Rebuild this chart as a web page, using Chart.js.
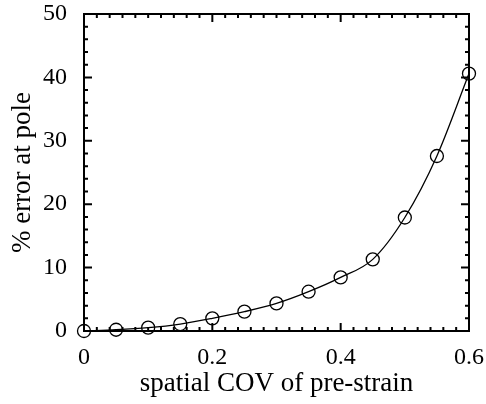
<!DOCTYPE html>
<html>
<head>
<meta charset="utf-8">
<script src="https://cdn.jsdelivr.net/npm/chart.js@4/dist/chart.umd.min.js"></script>
<style>
  body { margin: 0; background: #fff; }
  canvas { display: block; }
</style>
</head>
<body>
<canvas id="chart" width="486" height="404"></canvas>
<script>
// spatial COV of pre-strain vs % error at pole
const covValues = [0, 0.05, 0.1, 0.15, 0.2, 0.25, 0.3, 0.35, 0.4, 0.45, 0.5, 0.55, 0.6];
const errorValues = [0, 0.2, 0.53, 1.1, 2.0, 3.05, 4.35, 6.2, 8.45, 11.3, 17.9, 27.6, 40.6];
const xTickLabels = ['0', '0.2', '0.4', '0.6'];

const serif = 'Liberation Serif';

// Frame around the plot with inward major/minor ticks on all four sides
const frameTicks = {
    id: 'frameTicks',
    beforeDatasetsDraw(chart) {
        const { ctx, chartArea: a, scales: { x, y } } = chart;
        ctx.save();
        ctx.strokeStyle = '#000';
        ctx.lineWidth = 2;
        ctx.strokeRect(a.left, a.top, a.right - a.left, a.bottom - a.top);

        ctx.beginPath();
        // x ticks every 0.02, major every 0.2
        for (let i = 0; i <= 30; i++) {
            const px = x.getPixelForValue(i * 0.02);
            const len = i % 10 === 0 ? 8 : 4;
            ctx.moveTo(px, a.bottom); ctx.lineTo(px, a.bottom - len);
            ctx.moveTo(px, a.top); ctx.lineTo(px, a.top + len);
        }
        // y ticks every 2, major every 10
        for (let i = 0; i <= 25; i++) {
            const py = y.getPixelForValue(i * 2);
            const len = i % 5 === 0 ? 8 : 4;
            ctx.moveTo(a.left, py); ctx.lineTo(a.left + len, py);
            ctx.moveTo(a.right, py); ctx.lineTo(a.right - len, py);
        }
        ctx.stroke();
        ctx.restore();
    }
};

new Chart(document.getElementById('chart'), {
    type: 'line',
    data: {
        datasets: [{
            data: covValues.map((c, i) => ({ x: c, y: errorValues[i] })),
            borderColor: '#000',
            borderWidth: 1.3,
            cubicInterpolationMode: 'monotone',
            pointStyle: 'circle',
            pointRadius: 6.5,
            pointBorderWidth: 1.3,
            pointBorderColor: '#000',
            pointBackgroundColor: 'rgba(0,0,0,0)',
            fill: false,
            clip: false
        }]
    },
    options: {
        responsive: false,
        animation: false,
        events: [],
        layout: { padding: { top: 14, right: 17, left: 0, bottom: 0 } },
        plugins: { legend: { display: false }, tooltip: { enabled: false } },
        scales: {
            x: {
                type: 'linear',
                min: 0,
                max: 0.6,
                grid: { display: false },
                border: { display: false },
                ticks: {
                    stepSize: 0.2,
                    padding: 4,
                    color: '#000',
                    maxRotation: 0,
                    font: { family: serif, size: 24 },
                    callback: (v, i) => xTickLabels[i]
                },
                title: {
                    display: true,
                    text: 'spatial COV of pre-strain',
                    color: '#000',
                    font: { family: serif, size: 27 },
                    padding: { top: 0, bottom: 4 }
                },
                afterFit: s => {
                    s.height = 73;
                    s.paddingLeft = 0;
                    s.paddingRight = 0;
                }
            },
            y: {
                min: 0,
                max: 50,
                grid: { display: false },
                border: { display: false },
                ticks: {
                    stepSize: 10,
                    padding: 9,
                    color: '#000',
                    font: { family: serif, size: 24 }
                },
                title: {
                    display: true,
                    text: '% error at pole',
                    color: '#000',
                    font: { family: serif, size: 27 },
                    padding: { top: 7, bottom: 0 }
                },
                afterFit: s => {
                    s.width = 84;
                    s.paddingTop = 0;
                    s.paddingBottom = 0;
                }
            }
        }
    },
    plugins: [frameTicks]
});
</script>
</body>
</html>
